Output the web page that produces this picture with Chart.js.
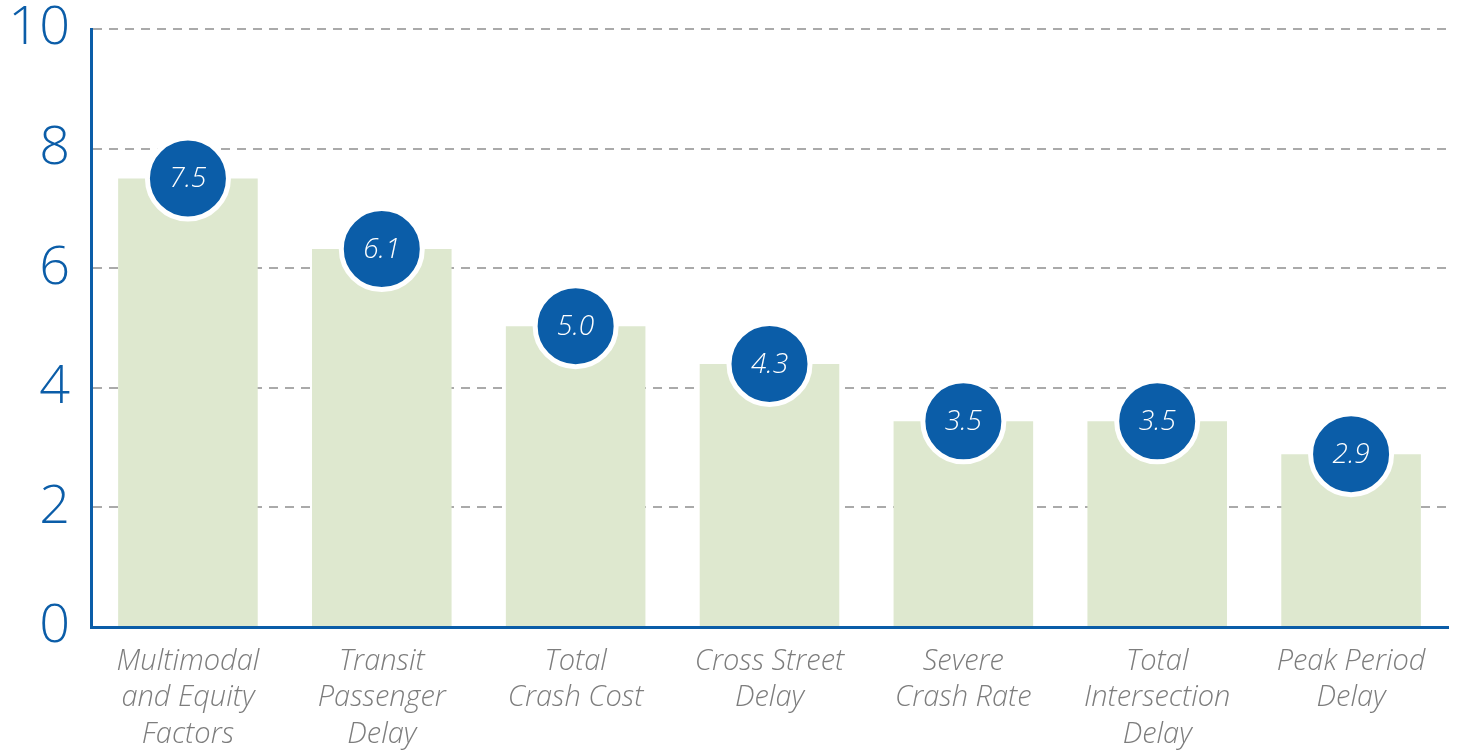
<!DOCTYPE html>
<html>
<head>
<meta charset="utf-8">
<script src="https://cdn.jsdelivr.net/npm/chart.js@4/dist/chart.umd.min.js"></script>
<style>
html,body{margin:0;padding:0;background:#fff;}
#wrap{width:1460px;height:751px;position:relative;}
</style>
</head>
<body>
<div id="wrap"><canvas id="c" width="1460" height="751"></canvas></div>
<script>
const categories = [
  ['Multimodal','and Equity','Factors'],
  ['Transit','Passenger','Delay'],
  ['Total','Crash Cost'],
  ['Cross Street','Delay'],
  ['Severe','Crash Rate'],
  ['Total','Intersection','Delay'],
  ['Peak Period','Delay']
];
const barValues = [7.5, 6.32, 5.03, 4.4, 3.44, 3.44, 2.89];
const valueLabels = ['7.5','6.1','5.0','4.3','3.5','3.5','2.9'];
const yTicks = [0, 2, 4, 6, 8, 10];

const BLUE = '#0b5da8';
const FONT = '"Open Sans", "Noto Sans", sans-serif';

const labelPlugin = {
  id: 'circleLabels',
  afterDatasetsDraw(chart) {
    const meta = chart.getDatasetMeta(1);
    const ctx = chart.ctx;
    ctx.save();
    ctx.fillStyle = '#ffffff';
    ctx.font = 'italic 300 28px ' + FONT;
    ctx.textAlign = 'center';
    ctx.textBaseline = 'middle';
    meta.data.forEach((pt, i) => {
      ctx.fillText(valueLabels[i], pt.x, pt.y + 1);
    });
    ctx.restore();
  }
};

new Chart(document.getElementById('c'), {
  data: {
    labels: categories,
    datasets: [
      {
        type: 'bar',
        data: barValues,
        backgroundColor: '#dee8cf',
        borderWidth: 0,
        barPercentage: 0.72,
        categoryPercentage: 1.0,
        order: 2
      },
      {
        type: 'line',
        data: barValues,
        showLine: false,
        pointRadius: 40.5,
        pointHoverRadius: 40.5,
        pointBackgroundColor: BLUE,
        pointBorderColor: '#ffffff',
        pointBorderWidth: 5,
        clip: false,
        order: 1
      }
    ]
  },
  options: {
    responsive: false,
    animation: false,
    events: [],
    layout: { autoPadding: false, padding: { top: 29, right: 12, left: 0, bottom: 0 } },
    plugins: { legend: { display: false }, tooltip: { enabled: false } },
    scales: {
      x: {
        offset: true,
        grid: { display: false, drawTicks: false },
        border: { display: true, color: BLUE, width: 3 },
        ticks: {
          color: '#7d7d7d',
          font: { family: FONT, size: 29, style: 'italic', weight: '300', lineHeight: 1.26 },
          maxRotation: 0,
          minRotation: 0,
          autoSkip: false,
          padding: 16
        },
        afterFit(scale) {
          scale.height = 124;
          scale.paddingLeft = 0;
          scale.paddingRight = 0;
        }
      },
      y: {
        min: 0,
        max: 10,
        afterBuildTicks(scale) {
          scale.ticks = yTicks.map(v => ({ value: v }));
        },
        grid: {
          drawTicks: false,
          color: (ctx) => ctx.tick && ctx.tick.value === 0 ? 'rgba(0,0,0,0)' : '#aaaaaa',
          lineWidth: 2
        },
        border: { display: true, color: BLUE, width: 3, dash: [9, 7], dashOffset: 0 },
        ticks: {
          color: BLUE,
          font: { family: FONT, size: 54, weight: '300' },
          padding: 21
        },
        afterFit(scale) {
          scale.width = 91;
          scale.paddingTop = 0;
          scale.paddingBottom = 0;
        }
      }
    }
  },
  plugins: [labelPlugin]
});
</script>
</body>
</html>
